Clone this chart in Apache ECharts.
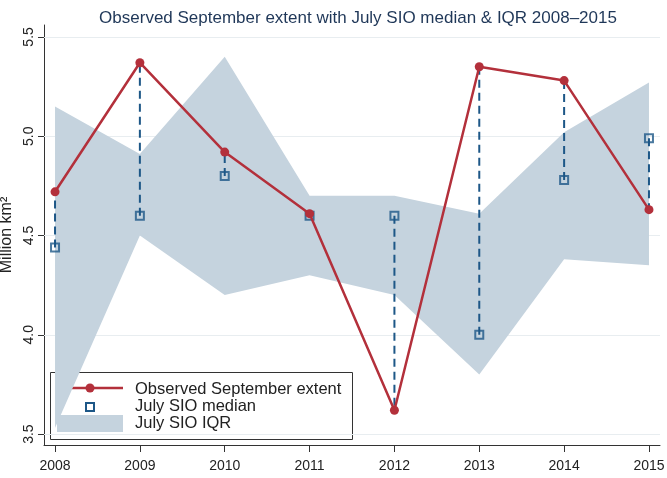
<!DOCTYPE html>
<html><head><meta charset="utf-8">
<script src="https://cdn.jsdelivr.net/npm/echarts@6/dist/echarts.min.js"></script>
<style>html,body{margin:0;padding:0;background:#fff}#c{width:667px;height:478px}</style>
</head><body><div id="c"></div>
<script>
const years = [2008, 2009, 2010, 2011, 2012, 2013, 2014, 2015];
const observed = [4.72, 5.37, 4.92, 4.61, 3.62, 5.35, 5.28, 4.63];
const sioMedian = [4.44, 4.60, 4.80, 4.60, 4.60, 4.00, 4.78, 4.99];
const iqrLower = [3.53, 4.50, 4.20, 4.30, 4.20, 3.80, 4.38, 4.35];
const iqrUpper = [5.15, 4.91, 5.40, 4.70, 4.70, 4.61, 5.02, 5.27];
const yTicks = [3.5, 4.0, 4.5, 5.0, 5.5];
const xTicks = years;
const titleText = 'Observed September extent with July SIO median & IQR 2008\u20132015';
const yName = 'Million km\u00b2';
const legendNames = ['Observed September extent', 'July SIO median', 'July SIO IQR'];

const FONT = '"Liberation Sans", Arial, sans-serif';
const RED = '#b3303b';
const BLUE = '#1d5787';
const BAND = '#c5d3de';

const chart = echarts.init(document.getElementById('c'), null, {renderer: 'canvas'});
chart.setOption({
  animation: false,
  backgroundColor: '#fff',
  textStyle: {fontFamily: FONT},
  title: {
    text: titleText, left: 353, top: 5, textAlign: 'center',
    textStyle: {fontFamily: FONT, fontSize: 17, fontWeight: 'normal', color: '#1f3758'}
  },
  grid: {left: 44, right: 7, top: 25, bottom: 33, containLabel: false, outerBoundsMode: 'none'},
  xAxis: {
    type: 'value', min: 2007.87, max: 2015.13,
    axisLine: {show: true, lineStyle: {color: '#333', width: 1}},
    axisTick: {show: true, length: 7, customValues: xTicks, lineStyle: {color: '#333'}},
    axisLabel: {customValues: xTicks, formatter: v => String(v), fontSize: 14, color: '#222', margin: 14, fontFamily: FONT},
    splitLine: {show: false}
  },
  yAxis: {
    type: 'value', min: 3.445, max: 5.56,
    name: yName, nameLocation: 'middle', nameGap: 21, nameRotate: 90,
    nameTextStyle: {fontSize: 16, color: '#222', fontFamily: FONT},
    axisLine: {show: true, lineStyle: {color: '#333', width: 1}},
    axisTick: {show: true, length: 6, customValues: yTicks, lineStyle: {color: '#333'}},
    axisLabel: {customValues: yTicks, formatter: v => v.toFixed(1), rotate: 90, fontSize: 14, color: '#222', margin: 8, fontFamily: FONT},
    splitLine: {show: false}
  },
  series: [
    {
      type: 'line', name: 'grid', data: [], z: 1,
      markLine: {
        silent: true, symbol: ['none', 'none'], z: 1, label: {show: false},
        lineStyle: {color: '#e8edf0', width: 1, type: 'solid'},
        data: yTicks.map(v => ({yAxis: v}))
      }
    },
    {
      type: 'custom', name: legendNames[2], z: 2,
      data: years.map((y, i) => [y, iqrLower[i], iqrUpper[i]]),
      encode: {x: 0, y: [1, 2]},
      renderItem: function (params, api) {
        if (params.dataIndex !== 0) return null;
        const pts = [];
        for (let i = 0; i < years.length; i++) pts.push(api.coord([years[i], iqrUpper[i]]));
        for (let i = years.length - 1; i >= 0; i--) pts.push(api.coord([years[i], iqrLower[i]]));
        return {type: 'polygon', shape: {points: pts}, style: {fill: BAND, stroke: null}};
      }
    },
    {
      type: 'custom', name: 'drop', z: 3,
      data: years.map((y, i) => [y, sioMedian[i], observed[i]]),
      encode: {x: 0, y: [1, 2]},
      renderItem: function (params, api) {
        const a = api.coord([api.value(0), api.value(1)]);
        const b = api.coord([api.value(0), api.value(2)]);
        return {type: 'line', shape: {x1: a[0], y1: a[1], x2: b[0], y2: b[1]},
          style: {stroke: BLUE, lineWidth: 2, lineDash: [8, 5], fill: null}};
      }
    },
    {
      type: 'scatter', name: legendNames[1], z: 4,
      data: years.map((y, i) => [y, sioMedian[i]]),
      symbol: 'rect', symbolSize: 8,
      itemStyle: {color: 'rgba(0,0,0,0)', borderColor: BLUE, borderWidth: 2}
    },
    {
      type: 'line', name: legendNames[0], z: 5,
      data: years.map((y, i) => [y, observed[i]]),
      symbol: 'circle', symbolSize: 9, showAllSymbol: true,
      lineStyle: {color: RED, width: 2.5},
      itemStyle: {color: RED}
    }
  ],
  graphic: [
    {type: 'group', z: 100, children: [
      {type: 'rect', shape: {x: 50.5, y: 372.5, width: 302, height: 67}, style: {fill: '#fff', stroke: '#333', lineWidth: 1}},
      {type: 'line', shape: {x1: 58, y1: 388, x2: 123, y2: 388}, style: {stroke: RED, lineWidth: 2.5}},
      {type: 'circle', shape: {cx: 90, cy: 388, r: 4.5}, style: {fill: RED}},
      {type: 'rect', shape: {x: 86, y: 403, width: 8, height: 8}, style: {fill: null, stroke: BLUE, lineWidth: 2}},
      {type: 'rect', shape: {x: 57, y: 415, width: 66, height: 17}, style: {fill: BAND}},
      {type: 'text', x: 135, y: 389, style: {text: legendNames[0], font: '16.5px ' + FONT, fill: '#222', verticalAlign: 'middle'}},
      {type: 'text', x: 135, y: 406, style: {text: legendNames[1], font: '16.5px ' + FONT, fill: '#222', verticalAlign: 'middle'}},
      {type: 'text', x: 135, y: 423, style: {text: legendNames[2], font: '16.5px ' + FONT, fill: '#222', verticalAlign: 'middle'}}
    ]}
  ]
});
</script>
</body></html>
